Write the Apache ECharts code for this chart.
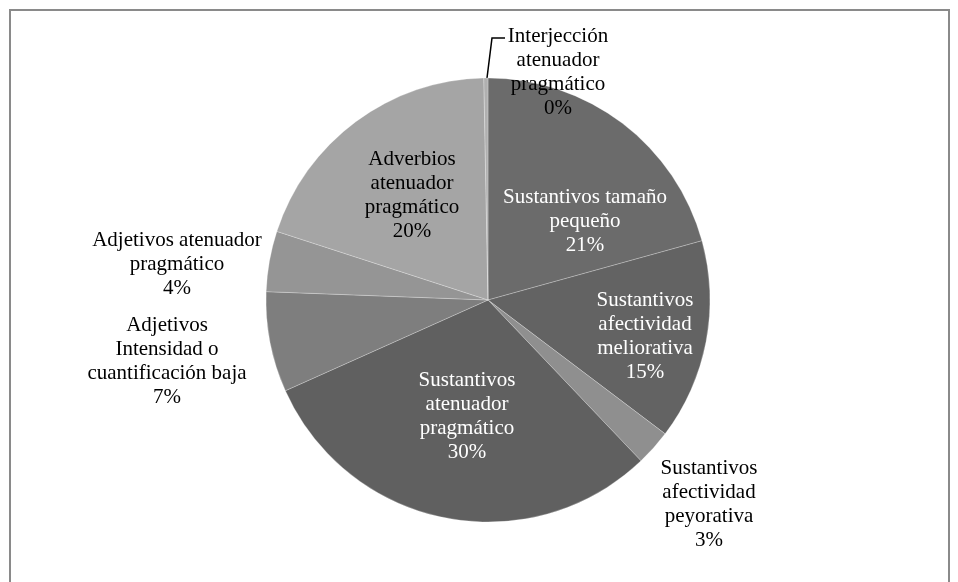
<!DOCTYPE html>
<html>
<head>
<meta charset="utf-8">
<script src="https://cdn.jsdelivr.net/npm/echarts@6/dist/echarts.min.js"></script>
<style>
  html, body { margin: 0; padding: 0; background: #fff; }
  #chart { width: 958px; height: 582px; }
</style>
</head>
<body>
<div id="chart"></div>
<script>
  // categorias (en el orden del grafico, sentido horario desde arriba)
  var categorias = [
    'Sustantivos tamaño\npequeño',
    'Sustantivos\nafectividad\nmeliorativa',
    'Sustantivos\nafectividad\npeyorativa',
    'Sustantivos\natenuador\npragmático',
    'Adjetivos\nIntensidad o\ncuantificación baja',
    'Adjetivos atenuador\npragmático',
    'Adverbios\natenuador\npragmático',
    'Interjección\natenuador\npragmático'
  ];
  // porcentajes
  var valores = [20.7, 14.6, 2.6, 30.4, 7.3, 4.4, 19.7, 0.3];

  var colores = ['#6b6b6b', '#636363', '#8f8f8f', '#606060', '#7e7e7e', '#959595', '#a5a5a5', '#b0b0b0'];
  var colorTexto = ['#fff', '#fff', '#000', '#fff', '#000', '#000', '#000', '#000'];
  // centro de cada etiqueta
  var posEtiqueta = [[585, 221], [645, 336], [709, 504], [467, 416], [167, 361], [177, 264], [412, 195], [558, 72]];

  var cx = 488, cy = 300, r = 222;

  var chart = echarts.init(document.getElementById('chart'));
  chart.setOption({
    animation: false,
    backgroundColor: '#fff',
    color: colores,
    graphic: [{
      type: 'rect',
      shape: { x: 10, y: 10, width: 939, height: 620 },
      style: { fill: 'none', stroke: '#8a8a8a', lineWidth: 2 },
      silent: true
    }],
    series: [{
      type: 'pie',
      center: [cx, cy],
      radius: r,
      startAngle: 90,
      clockwise: true,
      avoidLabelOverlap: false,
      itemStyle: { borderColor: 'rgba(255,255,255,0.25)', borderWidth: 1 },
      label: {
        position: 'inside',
        fontFamily: 'Liberation Serif',
        fontSize: 21,
        lineHeight: 24,
        align: 'center',
        formatter: function (p) { return p.name + '\n' + Math.round(p.percent) + '%'; }
      },
      labelLine: { show: false },
      labelLayout: function (p) {
        var pos = posEtiqueta[p.dataIndex];
        var o = { x: pos[0], y: pos[1], align: 'center', verticalAlign: 'middle' };
        if (p.dataIndex === 7) {
          o.labelLinePoints = [[cx - 1, cy - r], [cx + 4, 38], [cx + 17, 38]];
        }
        return o;
      },
      data: categorias.map(function (c, i) {
        var item = {
          name: c,
          value: valores[i],
          label: { color: colorTexto[i] }
        };
        if (i === 7) {
          item.label.position = 'outside';
          item.labelLine = { show: true, lineStyle: { color: '#000', width: 1.5 } };
        }
        return item;
      })
    }]
  });
</script>
</body>
</html>
